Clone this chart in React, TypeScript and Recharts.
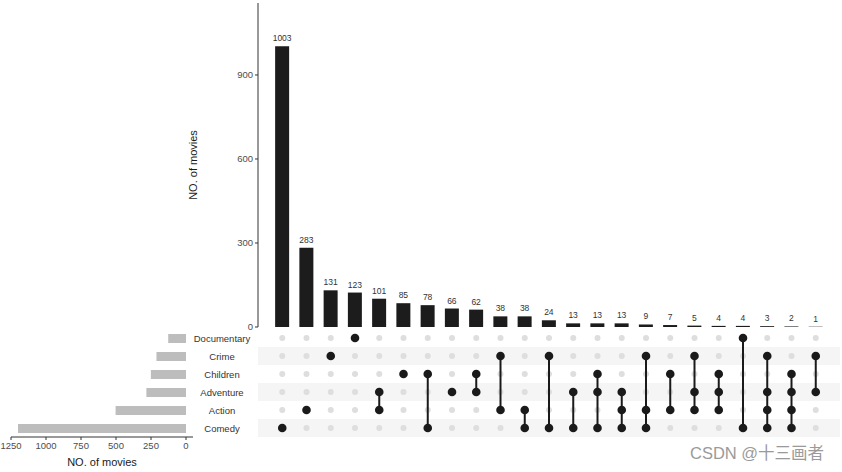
import React from "react";
import {
  BarChart,
  Bar,
  XAxis,
  YAxis,
  LabelList,
  ScatterChart,
  Scatter,
  ReferenceArea,
} from "recharts";

const setNames = ["Documentary", "Crime", "Children", "Adventure", "Action", "Comedy"];
const setSizes = [127, 211, 251, 283, 503, 1200];
const counts = [1003, 283, 131, 123, 101, 85, 78, 66, 62, 38, 38, 24, 13, 13, 13, 9, 7, 5, 4, 4, 3, 2, 1];
const members = [
  ["Comedy"],
  ["Action"],
  ["Crime"],
  ["Documentary"],
  ["Adventure", "Action"],
  ["Children"],
  ["Children", "Comedy"],
  ["Adventure"],
  ["Children", "Adventure"],
  ["Crime", "Action"],
  ["Action", "Comedy"],
  ["Crime", "Comedy"],
  ["Adventure", "Comedy"],
  ["Children", "Adventure", "Comedy"],
  ["Adventure", "Action", "Comedy"],
  ["Crime", "Action", "Comedy"],
  ["Children", "Action"],
  ["Crime", "Adventure", "Action"],
  ["Children", "Adventure", "Action"],
  ["Documentary", "Comedy"],
  ["Crime", "Adventure", "Action", "Comedy"],
  ["Children", "Adventure", "Action", "Comedy"],
  ["Crime", "Adventure"],
];
const countTicks = [0, 300, 600, 900];
const sizeTicks = [0, 250, 500, 750, 1000, 1250];
const shadedRows = ["Crime", "Adventure", "Comedy"];

const FONT = "'Liberation Sans', Arial, sans-serif";
const AXIS = "#333";

const barData = counts.map((c, i) => ({ x: i + 1, count: c }));
const sizeData = setNames.map((s, i) => ({ name: s, size: setSizes[i] }));
const greyDots = counts.flatMap((_, i) =>
  setNames
    .map((s, j) => ({ x: i + 1, y: j, on: members[i].includes(s) }))
    .filter((d) => !d.on)
);
const columns = members.map((m, i) => m.map((s) => ({ x: i + 1, y: setNames.indexOf(s) })));

const greyDot = (p: any) => <circle cx={p.cx} cy={p.cy} r={3} fill="#dedede" />;
const blackDot = (p: any) => <circle cx={p.cx} cy={p.cy} r={4.3} fill="#1a1a1a" />;

const CountTitle = (p: any) => {
  const vb = p.viewBox || { x: 0, y: 3, width: 258, height: 324 };
  const x = vb.x + vb.width - 65;
  const y = vb.y + vb.height / 2;
  return (
    <text x={x} y={y} transform={`rotate(-90, ${x}, ${y})`} textAnchor="middle" dominantBaseline="central" fontSize={11} fill="#1a1a1a" fontFamily={FONT}>
      NO. of movies
    </text>
  );
};

const SetTick = (p: any) => (
  <text x={p.x + 29} y={p.y} dy={3.5} textAnchor="middle" fontSize={9.5} fill="#333" fontFamily={FONT}>
    {p.payload.value}
  </text>
);

export default function App() {
  return (
    <div style={{ position: "absolute", left: 0, top: 0, width: 842, height: 472, fontFamily: FONT, background: "#fff" }}>
      <div style={{ position: "absolute", left: 0, top: 0 }}>
        <BarChart width={842} height={338} data={barData} margin={{ top: 3, right: 2, left: 0, bottom: 11 }}>
          <XAxis type="number" dataKey="x" domain={[0, 24]} tick={false} tickLine={false} height={0} axisLine={{ stroke: AXIS }} />
          <YAxis
            type="number"
            domain={[0, 1157]}
            ticks={countTicks}
            interval={0}
            width={258}
            tickSize={3}
            tickMargin={2}
            tick={{ fontSize: 9.5, fill: "#4d4d4d", fontFamily: FONT }}
            axisLine={{ stroke: AXIS }}
            tickLine={{ stroke: AXIS }}
            label={CountTitle}
            allowDataOverflow
          />
          <Bar dataKey="count" fill="#1c1c1c" barSize={14} isAnimationActive={false}>
            <LabelList dataKey="count" position="top" offset={5} fontSize={8.5} fill="#333" fontFamily={FONT} />
          </Bar>
        </BarChart>
      </div>

      <div style={{ position: "absolute", left: 0, top: 329 }}>
        <ScatterChart width={842} height={108} margin={{ top: 0, right: 2, left: 258, bottom: 0 }}>
          <XAxis type="number" dataKey="x" domain={[0, 24]} hide />
          <YAxis type="number" dataKey="y" domain={[-0.5, 5.5]} reversed hide />
          {shadedRows.map((s) => {
            const r = setNames.indexOf(s);
            return <ReferenceArea key={s} y1={r - 0.5} y2={r + 0.5} fill="#f5f5f5" fillOpacity={1} stroke="none" />;
          })}
          <Scatter data={greyDots} shape={greyDot} isAnimationActive={false} />
          {columns.map((d, i) => (
            <Scatter
              key={i}
              data={d}
              shape={blackDot}
              line={{ stroke: "#1a1a1a", strokeWidth: 2 }}
              isAnimationActive={false}
            />
          ))}
        </ScatterChart>
      </div>

      <div style={{ position: "absolute", left: 0, top: 329 }}>
        <BarChart layout="vertical" width={258} height={143} data={sizeData} margin={{ top: 0, right: 0, left: 11, bottom: 0 }}>
          <XAxis
            type="number"
            domain={[-50, 1250]}
            reversed
            ticks={sizeTicks}
            interval={0}
            height={35}
            tickSize={3}
            tickMargin={2}
            tick={{ fontSize: 9.5, fill: "#4d4d4d", fontFamily: FONT }}
            axisLine={{ stroke: AXIS }}
            tickLine={{ stroke: AXIS }}
            label={{ value: "NO. of movies", position: "insideBottom", offset: 6, fontSize: 11, fill: "#1a1a1a", fontFamily: FONT }}
          />
          <YAxis
            type="category"
            dataKey="name"
            orientation="right"
            width={65}
            interval={0}
            axisLine={false}
            tickLine={false}
            tickSize={0}
            tickMargin={0}
            tick={SetTick}
          />
          <Bar dataKey="size" fill="#bdbdbd" barSize={9} isAnimationActive={false} />
        </BarChart>
      </div>

      <div
        style={{
          position: "absolute",
          left: 690,
          top: 442,
          fontSize: 16.5,
          lineHeight: "22px",
          color: "#9a9a9a",
          fontFamily: "'Liberation Sans', 'Noto Sans CJK SC', sans-serif",
          whiteSpace: "nowrap",
        }}
      >
        CSDN @十三画者
      </div>
    </div>
  );
}
